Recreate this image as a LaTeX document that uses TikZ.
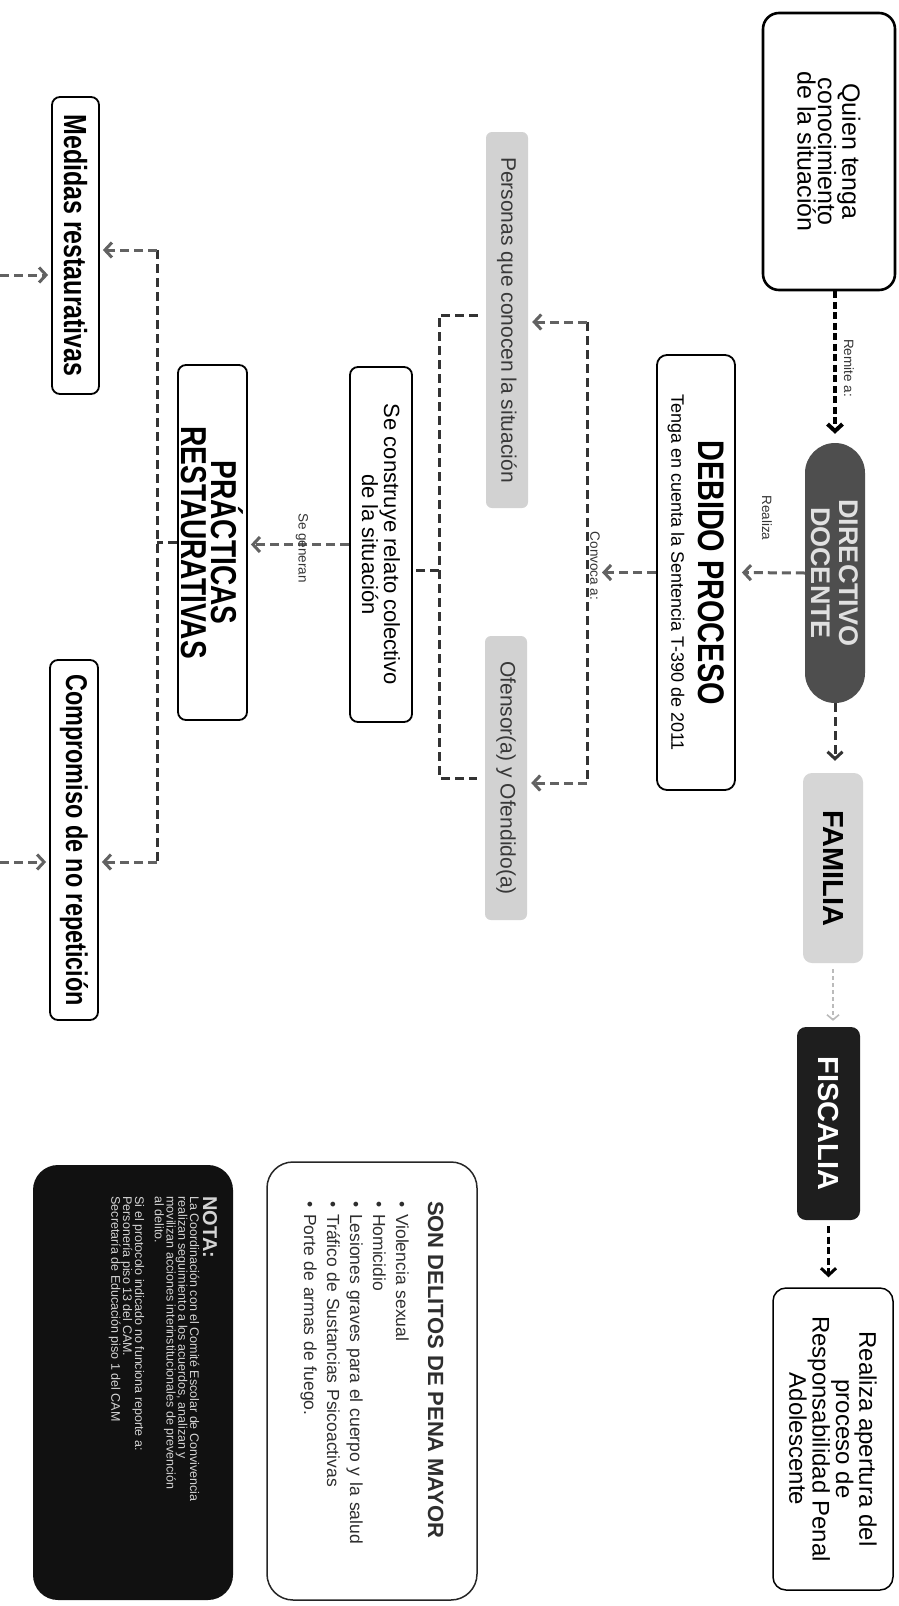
\documentclass[tikz,border=0pt]{standalone}
\usepackage{fontspec}
\setmainfont{Liberation Sans}
\newfontfamily\condensed{Liberation Sans}[FakeStretch=0.78]
\usetikzlibrary{arrows.meta}
\definecolor{dirgray}{HTML}{4E4E4E}
\definecolor{famgray}{HTML}{D6D6D6}
\definecolor{fisblack}{HTML}{1E1E1E}
\definecolor{persgray}{HTML}{D2D2D2}
\definecolor{conngray}{HTML}{626262}
\definecolor{darkdash}{HTML}{333333}
\definecolor{lightconn}{HTML}{BBBBBB}
\definecolor{notablack}{HTML}{111111}
\definecolor{notatext}{HTML}{D4D4D4}
\begin{document}
\begin{tikzpicture}[x=1pt,y=-1pt,
  rot/.style={rotate=-90, inner sep=0pt, align=center},
  outline/.style={rot, draw=black, line width=1.8pt, fill=white, rounded corners=8pt},
  lbl/.style={rotate=-90, inner sep=1pt, font=\fontsize{13.5}{14}\selectfont, text=black!80},
  arr/.style={-{Straight Barb[length=7pt,width=15pt]}},
  kline/.style={draw=black, line width=4pt, dash pattern=on 7pt off 3.5pt},
  gline/.style={draw=conngray, line width=3pt, dash pattern=on 9pt off 5pt},
  dline/.style={draw=darkdash, line width=3pt, dash pattern=on 9pt off 5pt},
  lline/.style={draw=lightconn, line width=1.6pt, dash pattern=on 4pt off 3pt},
]
\fill[white] (0,0) rectangle (898,1606);
\path[use as bounding box] (0,0) rectangle (898,1606);

% right column
\node[outline, line width=2.6pt, rounded corners=16pt, minimum width=277pt, minimum height=132pt, font=\fontsize{25}{20.5}\selectfont] (quien) at (829,151.5) {Quien tenga\\conocimiento\\de la situación};
\node[rot, fill=dirgray, rounded corners=30pt, minimum width=260pt, minimum height=60pt, text=white!88!black, font=\bfseries\fontsize{27}{28}\selectfont] (dir) at (835,573) {DIRECTIVO\\DOCENTE};
\node[rot, fill=famgray, rounded corners=9pt, minimum width=190pt, minimum height=60pt, font=\bfseries\fontsize{29}{29}\selectfont] (fam) at (833,868) {FAMILIA};
\node[rot, fill=fisblack, rounded corners=9pt, minimum width=193pt, minimum height=63pt, text=white, font=\bfseries\fontsize{29}{29}\selectfont] (fis) at (828.5,1123.5) {FISCALIA};
\node[outline, line width=1.5pt, rounded corners=13pt, minimum width=302pt, minimum height=120pt, font=\fontsize{24}{20.5}\selectfont] (real) at (833,1439) {Realiza apertura del\\proceso de\\Responsabilidad Penal\\Adolescente};

% middle
\node[outline, rounded corners=10pt, minimum width=435pt, minimum height=78pt, font=\fontsize{18}{22}\selectfont] (deb) at (696,572.5) {{\condensed\bfseries\fontsize{37}{37}\selectfont DEBIDO PROCESO}\\[5pt]Tenga en cuenta la Sentencia T-390 de 2011};
\node[rot, fill=persgray, rounded corners=6pt, minimum width=376pt, minimum height=42pt, text=black!78, font=\fontsize{21}{21}\selectfont] (pers) at (507,320) {Personas que conocen la situación};
\node[rot, fill=persgray, rounded corners=6pt, minimum width=284pt, minimum height=42pt, text=black!78, font=\fontsize{21}{21}\selectfont] (ofe) at (506,778) {Ofensor(a) y Ofendido(a)};
\node[outline, minimum width=355pt, minimum height=62pt, font=\fontsize{22}{22}\selectfont] (sec) at (381,544.5) {Se construye relato colectivo\\de la situación};
\node[outline, minimum width=355pt, minimum height=69pt, font=\condensed\bfseries\fontsize{36}{30}\selectfont] (prac) at (212.5,542.5) {PRÁCTICAS\\RESTAURATIVAS};
\node[outline, minimum width=297pt, minimum height=47pt, font=\condensed\bfseries\fontsize{32}{32}\selectfont] (med) at (75.5,245.5) {Medidas restaurativas};
\node[outline, minimum width=360pt, minimum height=48pt, font=\condensed\bfseries\fontsize{30}{30}\selectfont] (comp) at (74,840) {Compromiso de no repetición};

% bottom boxes
\node[rot, draw=black!85, line width=1.5pt, fill=white, rounded corners=26pt, minimum width=438pt, minimum height=210pt, align=left, text width=360pt, text=black!82, font=\fontsize{17.5}{23}\selectfont] (son) at (372,1381) {{\bfseries\fontsize{22}{24}\selectfont SON DELITOS DE PENA MAYOR}\\[9pt]•\hspace{7pt}Violencia sexual\\•\hspace{7pt}Homicidio\\•\hspace{7pt}Lesiones graves para el cuerpo y la salud\\•\hspace{7pt}Tráfico de Sustancias Psicoactivas\\•\hspace{7pt}Porte de armas de fuego.};
\node[rotate=-90, fill=notablack, rounded corners=25pt, inner sep=0pt, minimum width=435pt, minimum height=200pt, text=notatext] (nota) at (133,1382.5) {\begin{minipage}[c][200pt][t]{372pt}\raggedright\fontsize{12.5}{11.8}\selectfont\vspace{16pt}{\bfseries\fontsize{20}{20}\selectfont NOTA:}\\[1pt]
La Coordinación con el Comité Escolar de Convivencia\\
realizan seguimiento a los acuerdos, analizan y\\
movilizan acciones interinstitucionales de prevención\\
al delito.\\[8pt]
Si el protocolo indicado no funciona reporte a:\\
Personería piso 13 del CAM.\\
Secretaría de Educación piso 1 del CAM\end{minipage}};

% connectors right column
\draw[kline, arr, shorten >=9pt] (quien.east -| dir.west) -- (dir.west);
\node[lbl] (remite) at (849,368) {Remite a:};
\draw[dline, arr, shorten >=12pt] (dir.east) -- (dir.east |- fam.west);
\draw[lline, -{Straight Barb[length=5pt,width=12pt]}, shorten <=6pt, shorten >=6pt] (fam.east) -- (fam.east |- fis.west);
\draw[kline, line width=3pt, arr, shorten <=6pt, shorten >=10pt] (fis.east) -- (fis.east |- real.west);

% directivo -> debido
\draw[gline, arr, shorten >=6pt] (dir.south) -- (deb.north);
\node[lbl] (realiza) at (767,518) {Realiza};

% convoca
\coordinate (cvtop) at (587,322);
\coordinate (cvbot) at (587,783);
\coordinate (cvtip) at (602,572.5);
\draw[gline, arr] (deb.south) -- (cvtip);
\draw[dline] (cvtop) -- (cvbot);
\draw[gline, arr, shorten >=4pt] (cvtop) -- (cvtop -| pers.north);
\draw[gline, arr, shorten >=4pt] (cvbot) -- (cvbot -| ofe.north);
\node[lbl] (convoca) at (595,566) {Convoca a:};

% left bracket
\coordinate (lbtop) at (439,315);
\coordinate (lbbot) at (439,778);
\coordinate (lbmid) at (439,570);
\draw[dline, shorten <=8pt, shorten >=8pt] (lbtop -| pers.south) -- (lbtop) -- (lbbot) -- (lbbot -| ofe.south);
\draw[dline] (lbmid) -- (lbmid -| sec.north);

% se generan
\draw[gline, arr, shorten >=3pt] (sec.south) -- (sec.south -| prac.north);
\node[lbl] (segen) at (302,548) {Se generan};

% practicas bracket
\coordinate (pbtop) at (157,250);
\coordinate (pbbot) at (157,862);
\draw[dline] (prac.south) -- (prac.south -| pbtop);
\draw[dline] (pbtop) -- (pbbot);
\draw[gline, arr, shorten >=3pt] (pbtop) -- (pbtop -| med.north);
\draw[gline, arr, shorten >=3pt] (pbbot) -- (pbbot -| comp.north);
\coordinate (inmed) at (0,275);
\coordinate (incomp) at (0,862);
\draw[gline, arr, shorten >=3pt] (inmed) -- (inmed -| med.south);
\draw[gline, arr, shorten >=3pt] (incomp) -- (incomp -| comp.south);
\end{tikzpicture}
\end{document}
